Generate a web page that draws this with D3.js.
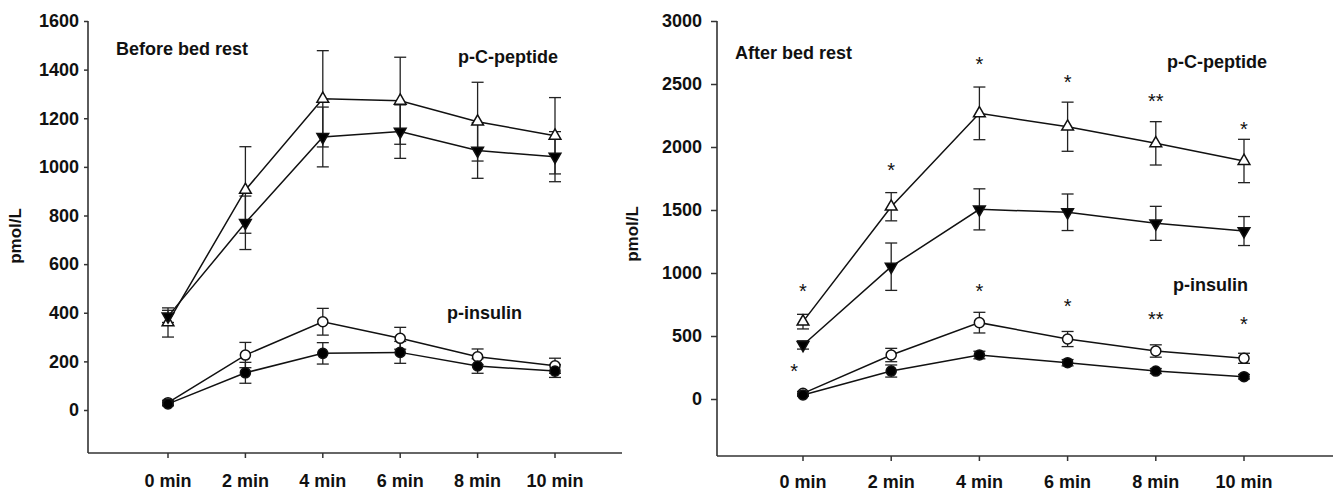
<!DOCTYPE html>
<html>
<head>
<meta charset="utf-8">
<script src="https://cdnjs.cloudflare.com/ajax/libs/d3/7.8.5/d3.min.js"></script>
<style>
  body { margin: 0; background: #fff; }
  svg text { font-family: "Liberation Sans", Arial, sans-serif; fill: #111; }
</style>
</head>
<body>
<div id="chart-area"></div>
<script>
// Data
// ****
const times = [0, 2, 4, 6, 8, 10]
const timeLabels = ["0 min", "2 min", "4 min", "6 min", "8 min", "10 min"]

// before bed rest
const beforeTicks = [0, 200, 400, 600, 800, 1000, 1200, 1400, 1600]
const beforeCpepOpen = [360, 905, 1280, 1272, 1186, 1128]
const beforeCpepOpenErr = [60, 178, 198, 179, 162, 157]
const beforeCpepFilled = [385, 770, 1123, 1145, 1067, 1042]
const beforeCpepFilledErr = [25, 110, 123, 110, 114, 103]
const beforeInsOpen = [30, 226, 363, 295, 219, 182]
const beforeInsOpenErr = [10, 52, 55, 45, 32, 31]
const beforeInsFilled = [25, 153, 233, 237, 181, 160]
const beforeInsFilledErr = [8, 43, 44, 45, 30, 26]

// after bed rest
const afterTicks = [0, 500, 1000, 1500, 2000, 2500, 3000]
const afterCpepOpen = [614, 1526, 2267, 2161, 2029, 1889]
const afterCpepOpenErr = [58, 112, 209, 195, 172, 172]
const afterCpepFilled = [429, 1050, 1505, 1482, 1394, 1333]
const afterCpepFilledErr = [33, 188, 163, 145, 135, 115]
const afterInsOpen = [45, 349, 606, 476, 381, 323]
const afterInsOpenErr = [15, 53, 82, 60, 49, 40]
const afterInsFilled = [32, 222, 349, 288, 222, 177]
const afterInsFilledErr = [10, 48, 30, 25, 20, 18]

// significance marks (after bed rest)
const cpepStars = ["*", "*", "*", "*", "**", "*"]
const cpepStarY = [891, 1852, 2696, 2553, 2399, 2180]
const insStars = ["*", "*", "*", "*", "**", "*"]
const insStarX = [-0.2, 4, 4, 6, 8, 10]
const insStarY = [256, null, 891, 772, 667, 632]

const W = 1333, H = 492

const svg = d3.select("#chart-area")
	.append("svg")
		.attr("width", W)
		.attr("height", H)

// Panels
// ******
drawPanel({
	axisX: 88, axisEnd: 622, x0: 168, x10: 555,
	yZero: 410, yTop: 21, yMax: 1600, axisBottom: 453,
	ticks: beforeTicks, tickSize: 4, tickPad: 5, xLabelY: 487,
	ylabX: 21, ylabY: 236,
	title: "Before bed rest", titleX: 116, titleY: 55,
	cLabel: [458, 63], iLabel: [447, 319],
	series: [
		{v: beforeCpepOpen, e: beforeCpepOpenErr, mark: "triUp", fill: "#fff"},
		{v: beforeCpepFilled, e: beforeCpepFilledErr, mark: "triDown", fill: "#000"},
		{v: beforeInsOpen, e: beforeInsOpenErr, mark: "circle", fill: "#fff"},
		{v: beforeInsFilled, e: beforeInsFilledErr, mark: "circle", fill: "#000"}
	]
})

drawPanel({
	axisX: 717, axisEnd: 1333, x0: 803, x10: 1244,
	yZero: 399, yTop: 21, yMax: 3000, axisBottom: 456,
	ticks: afterTicks, tickSize: 6, tickPad: 9, xLabelY: 488,
	ylabX: 638, ylabY: 234,
	title: "After bed rest", titleX: 735, titleY: 59,
	cLabel: [1167, 68], iLabel: [1173, 291],
	series: [
		{v: afterCpepOpen, e: afterCpepOpenErr, mark: "triUp", fill: "#fff"},
		{v: afterCpepFilled, e: afterCpepFilledErr, mark: "triDown", fill: "#000"},
		{v: afterInsOpen, e: afterInsOpenErr, mark: "circle", fill: "#fff"},
		{v: afterInsFilled, e: afterInsFilledErr, mark: "circle", fill: "#000"}
	],
	stars: [
		{t: times, s: cpepStars, y: cpepStarY},
		{t: insStarX, s: insStars, y: insStarY}
	]
})

function drawPanel(p) {
	const g = svg.append("g")

	const x = d3.scaleLinear().domain([0, 10]).range([p.x0, p.x10])
	const y = d3.scaleLinear().domain([0, p.yMax]).range([p.yZero, p.yTop])

	// Y Axis
	const yAxis = d3.axisLeft(y).tickValues(p.ticks).tickFormat(d3.format("d"))
		.tickSize(p.tickSize).tickPadding(p.tickPad)
	const ya = g.append("g").attr("transform", "translate(" + p.axisX + ",0)").call(yAxis)
	ya.select(".domain").remove()
	ya.selectAll("line").attr("stroke", "#333").attr("stroke-width", 1.5)
	ya.selectAll("text").attr("font-size", "18px").attr("font-weight", "bold")
		.attr("font-family", "Liberation Sans, Arial, sans-serif").attr("fill", "#111")
	g.append("line")
		.attr("x1", p.axisX).attr("x2", p.axisX)
		.attr("y1", p.yTop).attr("y2", p.axisBottom)
		.attr("stroke", "#333").attr("stroke-width", 1.6)

	// X Axis
	g.append("line")
		.attr("x1", p.axisX).attr("x2", p.axisEnd)
		.attr("y1", p.axisBottom).attr("y2", p.axisBottom)
		.attr("stroke", "#333").attr("stroke-width", 1.6)
	g.selectAll(".xtick").data(times).enter().append("line")
		.attr("x1", d => x(d)).attr("x2", d => x(d))
		.attr("y1", p.axisBottom).attr("y2", p.axisBottom + 5)
		.attr("stroke", "#333").attr("stroke-width", 1.5)
	g.selectAll(".xlab").data(times).enter().append("text")
		.attr("x", d => x(d)).attr("y", p.xLabelY)
		.attr("text-anchor", "middle")
		.attr("font-size", "18px").attr("font-weight", "bold")
		.text((d, i) => timeLabels[i])

	// Labels
	g.append("text")
		.attr("transform", "translate(" + p.ylabX + "," + p.ylabY + ") rotate(-90)")
		.attr("text-anchor", "middle")
		.attr("font-size", "17px").attr("font-weight", "bold")
		.text("pmol/L")
	g.append("text").attr("x", p.titleX).attr("y", p.titleY)
		.attr("font-size", "18px").attr("font-weight", "bold").text(p.title)
	g.append("text").attr("x", p.cLabel[0]).attr("y", p.cLabel[1])
		.attr("font-size", "18px").attr("font-weight", "bold").text("p-C-peptide")
	g.append("text").attr("x", p.iLabel[0]).attr("y", p.iLabel[1])
		.attr("font-size", "18px").attr("font-weight", "bold").text("p-insulin")

	const line = d3.line().x((d, i) => x(times[i])).y(d => y(d))

	// Error bars
	p.series.forEach(s => {
		const eb = g.append("g").attr("stroke", "#222").attr("stroke-width", 1.3)
		s.v.forEach((v, i) => {
			const cx = x(times[i]), hi = y(v + s.e[i]), lo = y(v - s.e[i])
			eb.append("line").attr("x1", cx).attr("x2", cx).attr("y1", hi).attr("y2", lo)
			eb.append("line").attr("x1", cx - 6).attr("x2", cx + 6).attr("y1", hi).attr("y2", hi)
			eb.append("line").attr("x1", cx - 6).attr("x2", cx + 6).attr("y1", lo).attr("y2", lo)
		})
	})

	// Lines
	p.series.forEach(s => {
		g.append("path").datum(s.v)
			.attr("d", line)
			.attr("fill", "none").attr("stroke", "#111").attr("stroke-width", 1.5)
	})

	// Markers
	p.series.forEach(s => {
		const sym = s.mark === "circle"
			? d3.symbol().type(d3.symbolCircle).size(80)
			: d3.symbol().type(d3.symbolTriangle).size(60)
		g.selectAll(null).data(s.v).enter().append("path")
			.attr("d", sym)
			.attr("transform", (d, i) => "translate(" + x(times[i]) + "," + y(d) + ")" + (s.mark === "triDown" ? " rotate(180)" : ""))
			.attr("fill", s.fill).attr("stroke", "#111").attr("stroke-width", 1.5)
	})

	// Stars
	if (p.stars) {
		const fs = 20
		p.stars.forEach(st => {
			st.s.forEach((txt, i) => {
				if (st.y[i] == null) return
				g.append("text")
					.attr("x", x(st.t[i])).attr("y", y(st.y[i]) + fs * 0.57)
					.attr("text-anchor", "middle")
					.attr("font-size", fs + "px")
					.text(txt)
			})
		})
	}
}
</script>
</body>
</html>
